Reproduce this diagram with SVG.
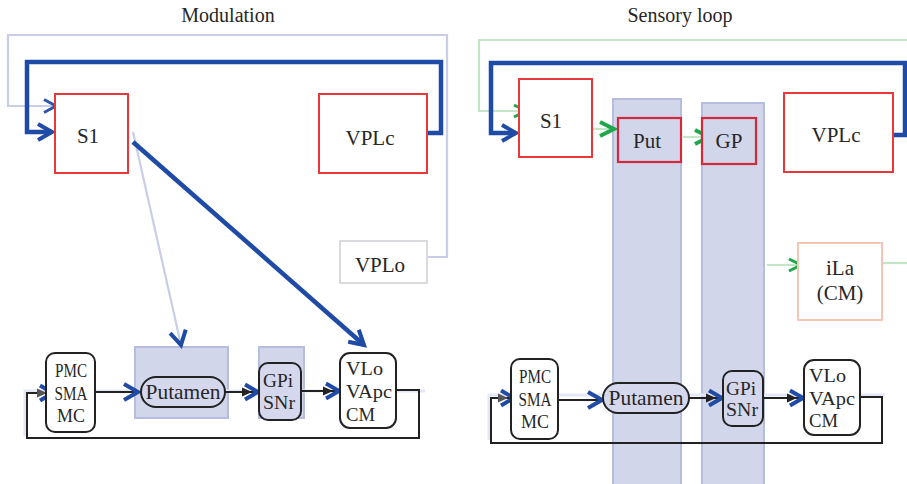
<svg xmlns="http://www.w3.org/2000/svg" width="907" height="484" viewBox="0 0 907 484">
<defs>
<style>
text { font-family: "Liberation Serif", "Times New Roman", serif; fill: #262626; }
.title { font-size: 20px; text-anchor: middle; }
.big { font-size: 21px; text-anchor: middle; }
.sm { font-size: 19px; }
.mid { text-anchor: middle; }
.red { fill: #fff; stroke: #e8383a; stroke-width: 2; }
.dred { fill: #d2d6eb; stroke: #d22a3c; stroke-width: 2.2; }
.col { fill: #d2d6eb; stroke: #b7bde0; stroke-width: 2; }
.rbox { fill: #fff; stroke: #222; stroke-width: 2; }
.rboxb { fill: #d5d8ed; stroke: #222; stroke-width: 2; }
.dk { fill: none; stroke: #1f4ba6; stroke-width: 4.5; }
.lt { fill: none; stroke: #c9cde8; stroke-width: 2.2; }
.lg { fill: none; stroke: #c3e6c9; stroke-width: 2.2; }
.bk { fill: none; stroke: #222; stroke-width: 2; }
.faint { fill: none; stroke: #e4e7f5; stroke-width: 3; }
</style>
<marker id="chB" markerUnits="userSpaceOnUse" overflow="visible" markerWidth="20" markerHeight="20" refX="0" refY="0" orient="auto">
<path d="M-14,-8 L0,0 L-14,8" fill="none" stroke="#1f4ba6" stroke-width="4"/>
</marker>
<marker id="chBs" markerUnits="userSpaceOnUse" overflow="visible" markerWidth="20" markerHeight="20" refX="0" refY="0" orient="auto">
<path d="M-12,-6.5 L0,0 L-12,6.5" fill="none" stroke="#2d55ad" stroke-width="3"/>
</marker>
<marker id="chG" markerUnits="userSpaceOnUse" overflow="visible" markerWidth="20" markerHeight="20" refX="0" refY="0" orient="auto">
<path d="M-14,-7 L0,0 L-14,7" fill="none" stroke="#1ea84a" stroke-width="4"/>
</marker>
<marker id="chGs" markerUnits="userSpaceOnUse" overflow="visible" markerWidth="20" markerHeight="20" refX="0" refY="0" orient="auto">
<path d="M-12,-6 L0,0 L-12,6" fill="none" stroke="#1ea84a" stroke-width="3"/>
</marker>
<marker id="chBK" markerUnits="userSpaceOnUse" overflow="visible" markerWidth="20" markerHeight="20" refX="0" refY="0" orient="auto">
<path d="M-16,-4.5 L-6,0 L-16,4.5 Z" fill="#222"/>
<path d="M-13,-7.5 L0,0 L-13,7.5" fill="none" stroke="#1f4ba6" stroke-width="4"/>
</marker>
<marker id="chGK" markerUnits="userSpaceOnUse" overflow="visible" markerWidth="20" markerHeight="20" refX="0" refY="0" orient="auto">
<path d="M-16,-4.5 L-6,0 L-16,4.5 Z" fill="#555"/>
<path d="M-13,-7.5 L0,0 L-13,7.5" fill="none" stroke="#1f4ba6" stroke-width="4"/>
</marker>
</defs>
<rect width="907" height="484" fill="#fff"/>

<text class="title" x="228" y="22">Modulation</text>
<text class="title" x="680" y="22">Sensory loop</text>

<!-- background columns -->
<g id="left-put-bg"><rect class="col" x="135" y="347" width="93" height="71"/></g>
<g id="left-gpi-bg"><rect class="col" x="259" y="347" width="45" height="71"/></g>
<g id="right-put-col"><rect class="col" x="613" y="99" width="68" height="392"/></g>
<g id="right-gp-col"><rect class="col" x="702" y="103" width="62" height="392"/></g>

<g id="connectors">
<!-- faint background traces -->
<path class="faint" d="M25,436 V391 H425"/>
<path class="faint" d="M489,440 V395 H885"/>
<!-- left top -->
<path class="lt" d="M420,257 H447 V35 H8 V106 H56" marker-end="url(#chBs)"/>
<path class="dk" d="M428,133 H441 V62 H27 V132 H52" marker-end="url(#chB)"/>
<path class="lt" d="M133,132 L181,345" marker-end="url(#chB)"/>
<path class="dk" d="M133,142 L364,345" marker-end="url(#chB)"/>
<!-- left bottom -->
<path class="bk" d="M94,392 H138" marker-end="url(#chB)"/>
<path class="bk" d="M225,392 H258" marker-end="url(#chBK)"/>
<path class="bk" d="M301,391 H339" marker-end="url(#chBK)"/>
<path class="bk" d="M396,390 H419 V438 H27 V393 H53" marker-end="url(#chGK)"/>
<!-- right top -->
<path class="lg" d="M907,40 H479 V111 H526" marker-end="url(#chGs)"/>
<path class="dk" d="M891,135 H905 V63 H491 V133 H516" marker-end="url(#chB)"/>
<path class="lg" d="M590,129 H614" marker-end="url(#chG)"/>
<path class="lg" d="M683,137 H709" marker-end="url(#chG)"/>
<path class="lg" d="M767,265 H801" marker-end="url(#chGs)"/>
<path class="lg" d="M883,263 H907"/>
<!-- right bottom -->
<path class="bk" d="M557,400 H602" marker-end="url(#chB)"/>
<path class="bk" d="M689,398 H722" marker-end="url(#chBK)"/>
<path class="bk" d="M763,398 H803" marker-end="url(#chBK)"/>
<path class="bk" d="M860,397 H882 V443 H491 V398 H514" marker-end="url(#chGK)"/>
</g>

<!-- left panel nodes -->
<g id="left-s1"><rect class="red" x="55" y="94" width="73" height="79"/><text class="big" x="88" y="143">S1</text></g>
<g id="left-vplc"><rect class="red" x="319" y="94" width="108" height="79"/><text class="big" x="370" y="145">VPLc</text></g>
<g id="left-vplo"><rect x="340" y="241" width="87" height="42" fill="#fff" stroke="#d9d9de" stroke-width="2"/><text class="big" x="380" y="272">VPLo</text></g>
<g id="left-pmc"><rect class="rbox" x="46" y="353" width="49" height="79" rx="9"/>
<text class="sm mid" x="71" y="377" textLength="32" lengthAdjust="spacingAndGlyphs">PMC</text>
<text class="sm mid" x="71" y="400" textLength="33" lengthAdjust="spacingAndGlyphs">SMA</text>
<text class="sm mid" x="71" y="422" textLength="28" lengthAdjust="spacingAndGlyphs">MC</text></g>
<g id="left-putamen"><rect class="rboxb" x="141" y="377" width="84" height="30" rx="15"/>
<text class="big" x="183" y="399" textLength="75" lengthAdjust="spacingAndGlyphs">Putamen</text></g>
<g id="left-gpi"><rect class="rboxb" x="259" y="363" width="42" height="57" rx="9"/>
<text class="sm" x="263" y="387" textLength="30" lengthAdjust="spacingAndGlyphs">GPi</text>
<text class="sm" x="263" y="409" textLength="32" lengthAdjust="spacingAndGlyphs">SNr</text></g>
<g id="left-vlo"><rect class="rbox" x="340" y="353" width="56" height="75" rx="10"/>
<text class="sm" x="346" y="375" textLength="37" lengthAdjust="spacingAndGlyphs">VLo</text>
<text class="sm" x="346" y="398" textLength="46" lengthAdjust="spacingAndGlyphs">VApc</text>
<text class="sm" x="346" y="421" textLength="29" lengthAdjust="spacingAndGlyphs">CM</text></g>

<!-- right panel nodes -->
<g id="right-s1"><rect class="red" x="519" y="79" width="73" height="78"/><text class="big" x="551" y="128">S1</text></g>
<g id="right-put"><rect class="dred" x="618" y="118" width="63" height="44"/><text class="big" x="647" y="148">Put</text></g>
<g id="right-gp"><rect class="dred" x="702" y="118" width="54" height="46"/><text class="big" x="729" y="148">GP</text></g>
<g id="right-vplc"><rect class="red" x="784" y="93" width="109" height="79"/><text class="big" x="836" y="142">VPLc</text></g>
<g id="right-ila"><rect x="798" y="243" width="84" height="77" fill="#fff" stroke="#f5c6b6" stroke-width="2"/>
<text class="big" x="840" y="275">iLa</text><text class="big" x="840" y="300">(CM)</text></g>
<g id="right-pmc"><rect class="rbox" x="511" y="359" width="47" height="80" rx="9"/>
<text class="sm mid" x="535" y="383" textLength="32" lengthAdjust="spacingAndGlyphs">PMC</text>
<text class="sm mid" x="535" y="406" textLength="33" lengthAdjust="spacingAndGlyphs">SMA</text>
<text class="sm mid" x="535" y="428" textLength="28" lengthAdjust="spacingAndGlyphs">MC</text></g>
<g id="right-putamen"><rect class="rboxb" x="603" y="383" width="86" height="30" rx="15"/>
<text class="big" x="646" y="405" textLength="75" lengthAdjust="spacingAndGlyphs">Putamen</text></g>
<g id="right-gpi"><rect class="rboxb" x="723" y="371" width="40" height="55" rx="9"/>
<text class="sm" x="726" y="395" textLength="30" lengthAdjust="spacingAndGlyphs">GPi</text>
<text class="sm" x="726" y="416" textLength="32" lengthAdjust="spacingAndGlyphs">SNr</text></g>
<g id="right-vlo"><rect class="rbox" x="804" y="360" width="56" height="75" rx="10"/>
<text class="sm" x="809" y="382" textLength="37" lengthAdjust="spacingAndGlyphs">VLo</text>
<text class="sm" x="809" y="405" textLength="46" lengthAdjust="spacingAndGlyphs">VApc</text>
<text class="sm" x="809" y="427" textLength="29" lengthAdjust="spacingAndGlyphs">CM</text></g>
</svg>
